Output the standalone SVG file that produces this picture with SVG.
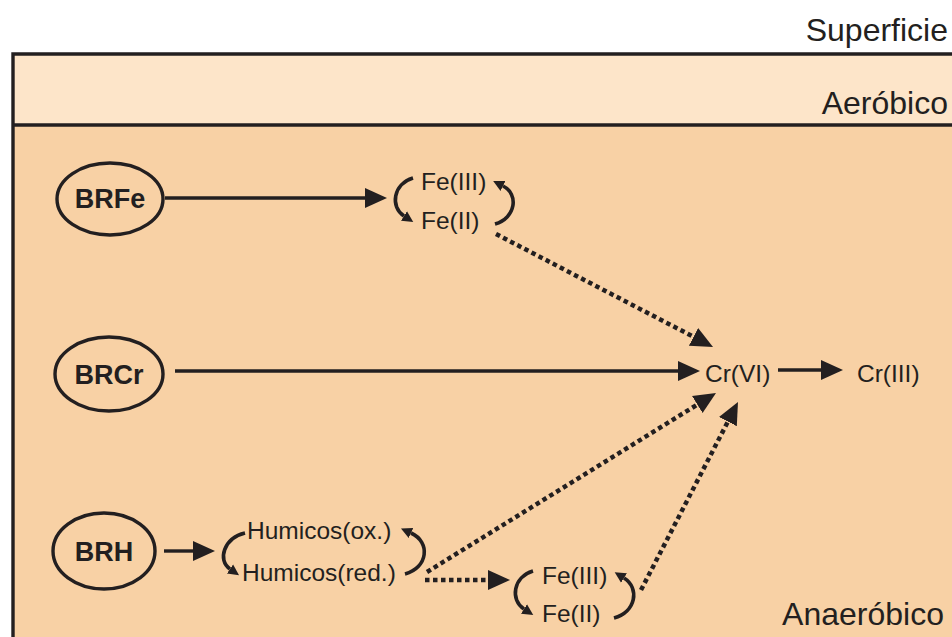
<svg xmlns="http://www.w3.org/2000/svg" width="952" height="637" viewBox="0 0 952 637">
  <style>
    text { font-family: "Liberation Sans", Arial, Helvetica, sans-serif; fill: #231f20; }
    .zone { font-size: 32px; }
    .lbl { font-size: 24.5px; }
    .bact { font-size: 27px; font-weight: bold; }
    .cell { fill: none; stroke: #231f20; stroke-width: 3.4; }
    .solid { fill: none; stroke: #231f20; stroke-width: 3.4; marker-end: url(#head); }
    .dots { fill: none; stroke: #231f20; stroke-width: 4.5; stroke-dasharray: 4.5 3.5; marker-end: url(#head); }
    .cycle { fill: none; stroke: #231f20; stroke-width: 3.6; stroke-linecap: butt; }
    .cycle.tip { marker-end: url(#small); }
  </style>
  <defs>
    <marker id="head" markerUnits="userSpaceOnUse" markerWidth="24" markerHeight="24" refX="0" refY="11" orient="auto">
      <path d="M0,1 L22,11 L0,21 Z" fill="#231f20"/>
    </marker>
    <marker id="small" markerUnits="userSpaceOnUse" markerWidth="14" markerHeight="14" refX="0" refY="6" orient="auto">
      <path d="M0,0.5 L11,6 L0,11.5 Z" fill="#231f20"/>
    </marker>
  </defs>

  <!-- background layers: surface, aerobic band, anaerobic zone -->
  <rect x="0" y="0" width="952" height="637" fill="#ffffff"/>
  <rect x="13" y="54" width="939" height="71" fill="#fde5c9"/>
  <rect x="13" y="125" width="939" height="512" fill="#f8d1a5"/>
  <path d="M13,637 V54 H952" fill="none" stroke="#231f20" stroke-width="3.4"/>
  <line x1="13" y1="125" x2="952" y2="125" stroke="#231f20" stroke-width="3.4"/>

  <g id="zones">
    <text class="zone" x="948" y="41" text-anchor="end">Superficie</text>
    <text class="zone" x="948" y="114" text-anchor="end">Aeróbico</text>
    <text class="zone" x="944" y="625" text-anchor="end">Anaeróbico</text>
  </g>

  <g id="BRFe">
    <ellipse class="cell" cx="110" cy="199" rx="53" ry="36"/>
    <text class="bact" x="110" y="208" text-anchor="middle">BRFe</text>
  </g>
  <g id="BRCr">
    <ellipse class="cell" cx="109" cy="374" rx="54" ry="37"/>
    <text class="bact" x="109" y="384" text-anchor="middle">BRCr</text>
  </g>
  <g id="BRH">
    <ellipse class="cell" cx="104" cy="551" rx="51" ry="38"/>
    <text class="bact" x="104" y="561" text-anchor="middle">BRH</text>
  </g>

  <g id="fe-cycle-upper">
    <text class="lbl" x="421" y="190">Fe(III)</text>
    <text class="lbl" x="421" y="229">Fe(II)</text>
    <path class="cycle tip" d="M413,178 C393,184 390,207 404,216"/>
    <path class="cycle tip" d="M495,224 C516,218 519,194 503,186"/>
  </g>

  <g id="cr-vi">
    <text class="lbl" x="705" y="382">Cr(VI)</text>
  </g>
  <g id="cr-iii">
    <text class="lbl" x="857" y="382">Cr(III)</text>
  </g>

  <g id="humic-cycle">
    <text class="lbl" x="247" y="539">Humicos(ox.)</text>
    <text class="lbl" x="242" y="581">Humicos(red.)</text>
    <path class="cycle tip" d="M245,533 C224,538 217,560 230,569"/>
    <path class="cycle tip" d="M405,574 C428,568 431,542 411,533"/>
  </g>

  <g id="fe-cycle-lower">
    <text class="lbl" x="542" y="584">Fe(III)</text>
    <text class="lbl" x="542" y="622">Fe(II)</text>
    <path class="cycle tip" d="M533,571 C513,577 510,600 524,609"/>
    <path class="cycle tip" d="M614,618 C636,612 640,588 624,578"/>
  </g>

  <g id="connectors">
    <line class="solid" x1="165" y1="198" x2="365" y2="198"/>
    <line class="solid" x1="175" y1="371" x2="678" y2="371"/>
    <line class="solid" x1="778" y1="370" x2="821" y2="370"/>
    <line class="solid" x1="164" y1="551" x2="193" y2="551"/>
    <line class="dots" x1="496" y1="234" x2="693.5" y2="336.8"/>
    <line class="dots" x1="427" y1="572" x2="697.3" y2="404.6"/>
    <line class="dots" x1="425" y1="580" x2="488" y2="580"/>
    <line class="dots" x1="641" y1="590" x2="727.9" y2="421.6"/>
  </g>
</svg>
